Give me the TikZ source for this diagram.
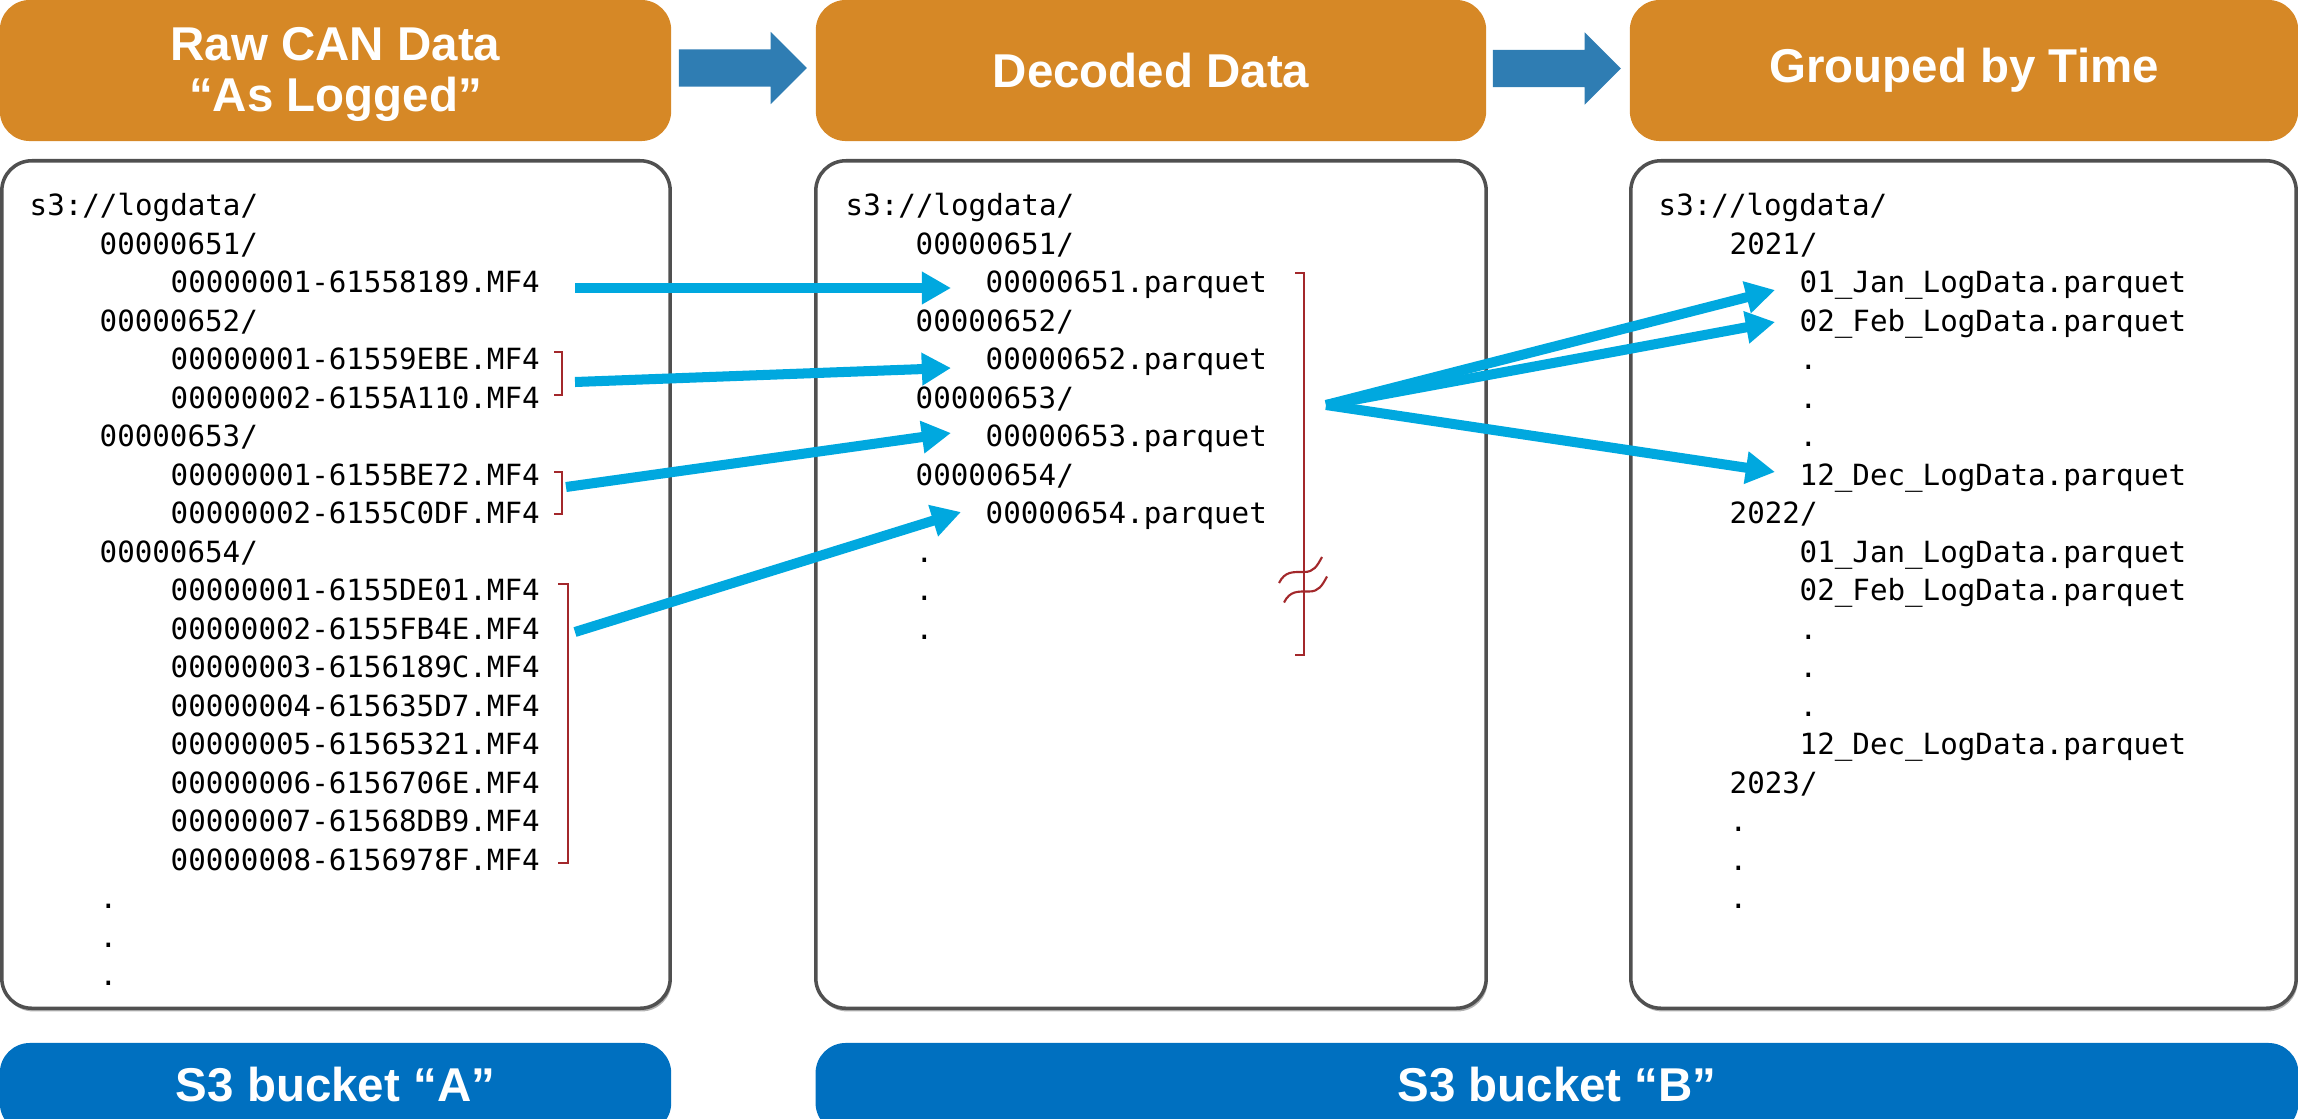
\documentclass[tikz,border=0pt]{standalone}
\usepackage{fontspec}
\setmainfont{Liberation Sans}
\newfontfamily\codefont{DejaVu Sans Mono}
\usetikzlibrary{arrows.meta,shapes.arrows,shadows}

\definecolor{hdrorange}{HTML}{D68826}
\definecolor{stepblue}{HTML}{2F7DB3}
\definecolor{bucketblue}{HTML}{0070C0}
\definecolor{flowblue}{HTML}{00A8DF}
\definecolor{brackred}{HTML}{A3282B}
\definecolor{panelgray}{HTML}{505050}

% baseline of listing row #1 (rows are 38.5 units apart)
\newcommand\rowy[1]{215.5+38.5*#1}

\begin{document}
\begin{tikzpicture}[x=0.01cm,y=-0.01cm,
  hdr/.style={fill=hdrorange, rounded corners=0.3cm, text=white,
    font=\bfseries\fontsize{13.5pt}{14.5pt}\selectfont, align=center, inner sep=0pt},
  hdrlabel/.style={text=white, font=\bfseries\fontsize{13.5pt}{14.5pt}\selectfont,
    align=center, inner sep=0pt},
  bucket/.style={fill=bucketblue, rounded corners=0.3cm, inner sep=0pt},
  bucketlabel/.style={text=white, font=\bfseries\fontsize{13.5pt}{14.5pt}\selectfont, inner sep=0pt},
  panel/.style={draw=panelgray, line width=1pt, rounded corners=0.3cm, fill=white, inner sep=0pt,
    drop shadow={shadow xshift=0.4pt, shadow yshift=-0.9pt, opacity=0.6, fill=black!50}},
  code/.style={font=\codefont\fontsize{8.3pt}{10pt}\selectfont, anchor=base west, inner sep=0pt},
  stepper/.style={single arrow, fill=stepblue, minimum height=1.28cm,
    inner xsep=0pt, inner ysep=0.18cm,
    single arrow head extend=0.175cm, single arrow tip angle=90},
  flow/.style={draw=flowblue, line width=2.85pt, -{Triangle[length=8.3pt,width=8.8pt]}},
  brace/.style={draw=brackred, line width=0.7pt},
]
\useasboundingbox (0,0) rectangle (2298,1118);
\clip (0,0) rectangle (2298,1118);

% stage headers
\node[hdr, minimum width=6.71cm, minimum height=1.41cm] (h1) at (335.5,70.5) {};
\node[hdrlabel] (h1t) at (335.5,74.5) {Raw CAN Data\\“As Logged”};
\node[hdr, minimum width=6.70cm, minimum height=1.41cm] (h2) at (1151,70.5) {Decoded Data};
\node[hdr, minimum width=6.68cm, minimum height=1.41cm] (h3) at (1964,70.5) {Grouped by Time};
\node[stepper] (s12) at (733.5,68) {};
\node[stepper] (s23) at (1547.5,68.5) {};

% listing panels
\node[panel, minimum width=6.68cm, minimum height=8.47cm] (pA) at (336,584.5) {};
\node[panel, minimum width=6.70cm, minimum height=8.47cm] (pB) at (1151,584.5) {};
\node[panel, minimum width=6.65cm, minimum height=8.47cm] (pC) at (1963.5,584.5) {};

% bucket bars
\node[bucket, minimum width=6.71cm, minimum height=0.9cm] (bA) at (335.5,1088) {};
\node[bucketlabel] (bAt) at (335.5,1085) {S3 bucket “A”};
\node[bucket, minimum width=14.82cm, minimum height=0.9cm] (bB) at (1557,1088) {};
\node[bucketlabel] (bBt) at (1557,1085) {S3 bucket “B”};

% raw log files
\node[code] (a0)  at (29,{\rowy{0}})  {s3://logdata/};
\node[code] (a1)  at (99,{\rowy{1}})  {00000651/};
\node[code] (a2)  at (170,{\rowy{2}}) {00000001-61558189.MF4};
\node[code] (a3)  at (99,{\rowy{3}})  {00000652/};
\node[code] (a4)  at (170,{\rowy{4}}) {00000001-61559EBE.MF4};
\node[code] (a5)  at (170,{\rowy{5}}) {00000002-6155A110.MF4};
\node[code] (a6)  at (99,{\rowy{6}})  {00000653/};
\node[code] (a7)  at (170,{\rowy{7}}) {00000001-6155BE72.MF4};
\node[code] (a8)  at (170,{\rowy{8}}) {00000002-6155C0DF.MF4};
\node[code] (a9)  at (99,{\rowy{9}})  {00000654/};
\node[code] (a10) at (170,{\rowy{10}}) {00000001-6155DE01.MF4};
\node[code] (a11) at (170,{\rowy{11}}) {00000002-6155FB4E.MF4};
\node[code] (a12) at (170,{\rowy{12}}) {00000003-6156189C.MF4};
\node[code] (a13) at (170,{\rowy{13}}) {00000004-615635D7.MF4};
\node[code] (a14) at (170,{\rowy{14}}) {00000005-61565321.MF4};
\node[code] (a15) at (170,{\rowy{15}}) {00000006-6156706E.MF4};
\node[code] (a16) at (170,{\rowy{16}}) {00000007-61568DB9.MF4};
\node[code] (a17) at (170,{\rowy{17}}) {00000008-6156978F.MF4};
\node[code] (a18) at (99,{\rowy{18}}) {.};
\node[code] (a19) at (99,{\rowy{19}}) {.};
\node[code] (a20) at (99,{\rowy{20}}) {.};

% decoded files
\node[code] (b0)  at (845,{\rowy{0}})  {s3://logdata/};
\node[code] (b1)  at (915,{\rowy{1}})  {00000651/};
\node[code] (b2)  at (985,{\rowy{2}})  {00000651.parquet};
\node[code] (b3)  at (915,{\rowy{3}})  {00000652/};
\node[code] (b4)  at (985,{\rowy{4}})  {00000652.parquet};
\node[code] (b5)  at (915,{\rowy{5}})  {00000653/};
\node[code] (b6)  at (985,{\rowy{6}})  {00000653.parquet};
\node[code] (b7)  at (915,{\rowy{7}})  {00000654/};
\node[code] (b8)  at (985,{\rowy{8}})  {00000654.parquet};
\node[code] (b9)  at (915,{\rowy{9}})  {.};
\node[code] (b10) at (915,{\rowy{10}}) {.};
\node[code] (b11) at (915,{\rowy{11}}) {.};

% files grouped by month
\node[code] (c0)  at (1658,{\rowy{0}})  {s3://logdata/};
\node[code] (c1)  at (1729,{\rowy{1}})  {2021/};
\node[code] (c2)  at (1799,{\rowy{2}})  {01\_Jan\_LogData.parquet};
\node[code] (c3)  at (1799,{\rowy{3}})  {02\_Feb\_LogData.parquet};
\node[code] (c4)  at (1799,{\rowy{4}})  {.};
\node[code] (c5)  at (1799,{\rowy{5}})  {.};
\node[code] (c6)  at (1799,{\rowy{6}})  {.};
\node[code] (c7)  at (1799,{\rowy{7}})  {12\_Dec\_LogData.parquet};
\node[code] (c8)  at (1729,{\rowy{8}})  {2022/};
\node[code] (c9)  at (1799,{\rowy{9}})  {01\_Jan\_LogData.parquet};
\node[code] (c10) at (1799,{\rowy{10}}) {02\_Feb\_LogData.parquet};
\node[code] (c11) at (1799,{\rowy{11}}) {.};
\node[code] (c12) at (1799,{\rowy{12}}) {.};
\node[code] (c13) at (1799,{\rowy{13}}) {.};
\node[code] (c14) at (1799,{\rowy{14}}) {12\_Dec\_LogData.parquet};
\node[code] (c15) at (1729,{\rowy{15}}) {2023/};
\node[code] (c16) at (1729,{\rowy{16}}) {.};
\node[code] (c17) at (1729,{\rowy{17}}) {.};
\node[code] (c18) at (1729,{\rowy{18}}) {.};

% brackets grouping source files
\draw[brace] (554,352) -- (562,352) -- (562,395) -- (554,395);
\draw[brace] (554,472) -- (562,472) -- (562,514) -- (554,514);
\draw[brace] (558,584) -- (568,584) -- (568,863) -- (558,863);
\draw[brace] (1295,273) -- (1304,273) -- (1304,655) -- (1295,655);
% break mark on the long bracket
\foreach \dy/\dx in {0/0, 19.5/5}
  \draw[brace, line width=0.6pt, shift={(\dx,\dy)}]
    (1279,583) .. controls (1285,571) and (1293,572) .. (1304,572)
    .. controls (1314,572) and (1317,566) .. (1322,557);

% arrow end points
\coordinate (f1) at (575,288);   \coordinate (t1) at (951,288);
\coordinate (f2) at (575,382);   \coordinate (t2) at (951,368);
\coordinate (f3) at (566,487);   \coordinate (t3) at (951,433);
\coordinate (f4) at (575,632);   \coordinate (t4) at (961,512);
\coordinate (fan) at (1326,405);
\coordinate (tj) at (1775,290);
\coordinate (tf) at (1775,322);
\coordinate (td) at (1775,472);

\draw[flow] (f1) -- (t1);
\draw[flow] (f2) -- (t2);
\draw[flow] (f3) -- (t3);
\draw[flow] (f4) -- (t4);
\draw[flow] (fan) -- (tj);
\draw[flow] (fan) -- (tf);
\draw[flow] (fan) -- (td);
\end{tikzpicture}
\end{document}
